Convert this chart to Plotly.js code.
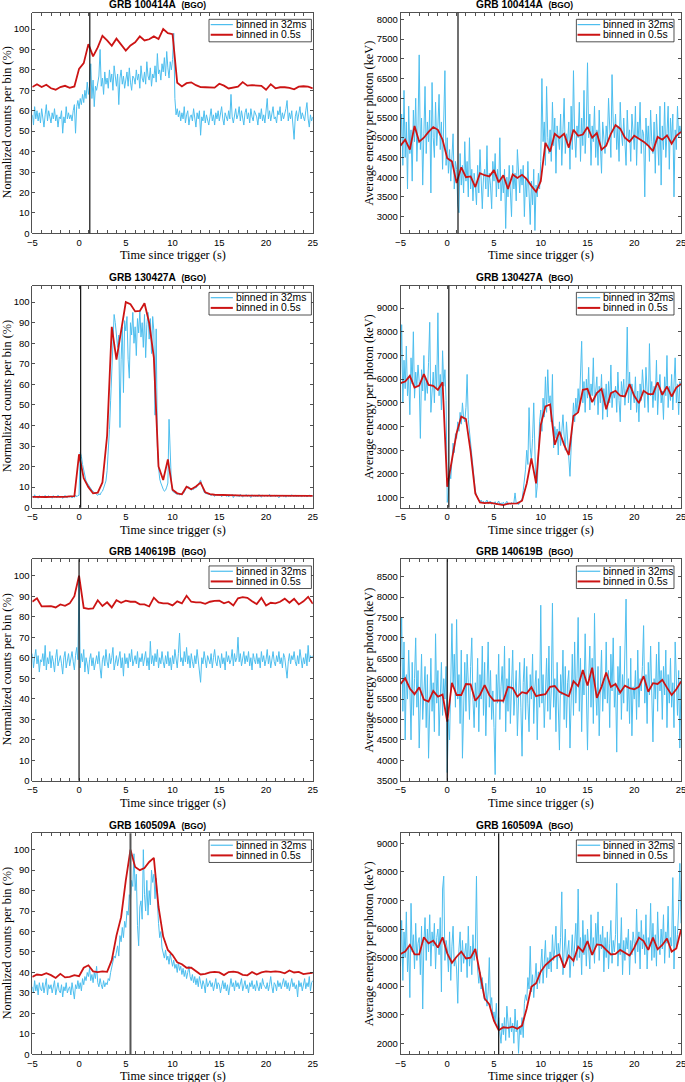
<!DOCTYPE html>
<html><head><meta charset="utf-8">
<script src="https://cdn.plot.ly/plotly-3.0.1.min.js"></script>
<style>html,body{margin:0;padding:0;background:#fff}#chart{width:685px;height:1082px}</style>
</head><body><div id="chart"></div>
<script>
const grbNames = ["GRB 100414A", "GRB 130427A", "GRB 140619B", "GRB 160509A"];
const detectorTag = "(BGO)";
const markerTimes = [1.15, 0.17, 0, 5.5];
const legendLabels = ["binned in 32ms", "binned in 0.5s"];
const yTitles = ["Normalized counts per bin (%)", "Average energy per photon (keV)"];
const xTitle = "Time since trigger (s)";

// ---- GRB 100414A ----
const counts100414A_32ms = [
58,53,62,56,60,55,59,54,
61,56,52,58,63,55,60,57,
54,59,56,61,55,58,52,57,
56,60,49,57,54,62,56,59,
56,58,55,60,63,49,62,65,
61,66,63,68,64,70,66,74,
68,72,83,66,75,62,72,70,
74,77,90,72,76,68,79,73,
76,71,80,74,78,70,82,75,
72,78,63,76,80,73,77,71,
75,79,72,81,74,70,77,76,
73,80,75,78,71,82,76,74,
79,73,84,77,75,81,72,78,
76,82,74,88,78,80,75,83,
79,86,77,89,81,76,84,80,
85,98,66,58,61,57,60,55,
59,56,62,54,58,60,53,57,
58,55,61,57,52,59,56,60,
48,57,55,60,54,58,56,53,
57,61,55,58,53,59,56,60,
55,58,62,56,53,59,57,55,
60,56,68,57,54,59,61,56,
58,62,55,60,57,53,59,61,
56,59,54,61,57,55,60,58,
57,53,59,56,61,55,58,54,
59,66,56,60,55,58,62,56,
57,54,60,58,62,55,59,56,
58,61,65,55,59,56,60,53,
46,57,60,55,58,62,56,59,
57,55,60,64,56,52,58,55,
57];
const counts100414A_05s = [
71.6,73,71.6,72.7,71,70.3,71.6,72.2,71.2,71.9,
80.5,83.3,92.6,86.6,91,96.7,94.4,91.8,95.3,92.6,
89.5,92,93.5,96.4,94.4,95,96.4,95.1,100,98,
97.5,73.7,71.9,73.5,73.9,72.5,71.6,71.5,71.5,71.3,
73.2,72.3,70.9,71.3,71.8,74,72.3,72.5,72.3,72.2,
70.3,73,71,71.5,71.5,71.2,70.5,71.8,72,71.8,
71];
const energy100414A_32ms = [
4800,5600,4300,6200,4500,5400,3700,5800,
4600,5200,3900,5700,4900,6000,4400,5300,
7100,4700,5500,3800,5100,6300,4600,5400,
4900,5700,3600,6400,5000,4500,5900,4800,
5300,6100,4700,5400,4200,5800,6700,4300,
5000,4100,4700,3900,4500,5100,3700,4400,
4200,3300,3100,4600,3800,4300,3600,4900,
3900,4400,3500,5000,3700,4200,3400,4100,
3800,3300,4300,3600,4700,3900,3200,4000,
4200,3700,4800,3500,4100,3800,3200,4400,
3900,4600,3500,4200,3700,5000,3400,4000,
3600,4200,2700,4000,3500,4300,3800,3000,
4300,3700,4100,3400,4700,3900,3600,4200,
3800,4300,3000,4000,3500,4400,3700,2800,
3900,3300,4200,2650,3800,3500,4100,3700,
4400,6500,4900,5400,4300,6300,5000,4600,
5200,4400,5900,4800,5500,4100,5300,5000,
4700,5600,4300,5200,6000,4600,5100,4900,
5400,4200,5800,4700,6700,5100,4500,5300,
5000,5900,4400,5500,4800,6200,4600,5300,
6900,5000,5600,4300,5300,4900,5800,4500,
5200,4300,5700,4800,4100,5400,5000,4600,
5300,4900,6000,5200,4500,6600,5400,5000,
5600,4700,5300,4400,5900,5100,4800,5500,
5000,4300,5700,4900,5200,4400,5600,5100,
4700,5800,4300,5400,5000,5900,4600,5200,
5100,3500,5500,4800,5300,4400,5700,4900,
4600,5400,4100,5600,5000,4300,5800,3800,
5300,4700,5900,4500,5100,5800,4200,5500,
4900,5600,3500,5200,4700,5800,5000,5300,
5100];
const energy100414A_05s = [
4800,4950,4700,5300,4900,5000,5150,5270,5200,4950,
4480,4400,3850,4250,4000,4020,3750,4100,4050,4020,
4180,3870,4050,3700,4070,3980,4060,3950,3780,3630,
3900,4870,4650,5100,5000,5100,4750,5200,5050,5080,
5270,5000,5120,4700,4800,5100,5320,5230,5000,4900,
5050,4980,4900,4800,4660,5020,4950,5060,4850,5050,
5150];

// ---- GRB 130427A ----
const counts130427A_32ms = [
5.5,4.8,6.3,5.0,5.7,4.6,5.9,5.2,
4.9,5.6,5.1,6.0,4.7,5.4,5.8,5.0,
5.3,4.6,5.9,5.1,5.5,4.8,6.1,5.2,
5.0,5.7,4.5,5.4,6.0,5.1,4.9,5.6,
5.2,5.8,4.7,5.5,5.0,6.2,5.3,5.9,
6,27,25,21,18,15,13,12,
11,10,9,8.5,8,7.5,7,6.5,
6,6.8,6.2,7.5,8,9.5,11,13,
18,26,38,52,66,80,94,90,
85,78,84,39,72,88,56,91,
86,93,72,63,90,84,95,80,
88,74,92,85,96,83,90,78,
94,73,89,95,82,92,75,93,
86,45,87,30,20,14,12,10,
9,8,8.5,10,12,43,30,12,
8,7.5,7,6.8,6.5,7,6.2,6.6,
6.3,6.8,7.5,9,10.5,9.8,10.2,9,
8.5,9.2,8.8,10,9.5,10.5,11,12.5,
13.5,11,9,7.5,7,6.8,6.5,6.6,
6.4,5.8,6.7,6,5.5,6.5,5.9,6.3,
5.7,6.4,5.3,6.1,5.8,6.6,5.5,6,
5.2,6.3,5.7,6.5,4.9,5.8,6.2,5.5,
6,5.3,6.5,5.7,5.1,6.2,5.6,6.4,
5.4,6.1,5.8,4.9,6.3,5.5,6,5.2,
5.9,5.3,6.4,5.6,5.1,6.1,5.7,5.5,
6.2,5.4,5.8,6.5,5.2,5.9,5.6,6.1,
5.3,6,5.5,4.8,5.9,5.6,6.2,5.4,
5.8,5.1,6.1,5.5,5.9,5.2,6.3,5.6,
5.5,6,5.2,5.8,5.4,6.1,5.3,5.7,
5.9,5.4,6,5.2,5.7,6.2,5.5,5.8,
5.6];
const counts130427A_05s = [
5.3,5.2,5.3,5.2,5.3,5.2,5.3,5.3,5.5,5.6,
26,14.3,10,7,7.3,12.3,35,88,72,85,
100,99,95.5,95.7,99.5,90,73,20,13.5,23.5,
8.7,7,6.5,10.2,9,10.3,12.2,7.5,6.6,6.3,
6.3,6.2,6.1,6.0,6.0,5.9,5.9,5.8,5.7,5.7,
5.6,5.9,5.8,5.7,5.6,5.6,5.6,5.6,5.7,5.8,
5.8];
const energy130427A_32ms = [
6200,8300,5000,6800,5600,7400,5300,6100,
4500,6900,5800,8000,5200,6300,5700,6600,
5900,3500,6400,5500,7000,5100,6000,5400,
6700,8400,4600,5800,6300,5000,6600,5600,
8800,5300,6200,4700,7200,5700,6400,5100,
800,1200,2100,1800,2700,3300,2900,3700,
3500,4200,3800,4600,4100,5000,4400,4200,
4800,6200,4300,3800,3300,2600,2100,1500,
1300,1100,950,880,820,900,780,850,
760,820,900,730,780,860,720,800,
750,830,700,790,860,720,780,740,
810,700,760,850,690,770,720,800,
740,780,1200,760,820,700,790,850,
950,1300,1700,2200,3000,2400,4800,3100,
2600,3500,5000,2200,1000,1500,3000,4200,
4700,3800,5200,4400,6100,4600,6400,5000,
5300,4200,6200,3100,4000,3500,3900,2800,
4200,3200,3800,4500,3600,3000,4200,3400,
2500,1900,3100,4400,5000,4200,5200,4600,
5600,4800,6300,7600,5000,5900,4600,6000,
5200,6500,4700,5800,5300,6900,4900,5600,
6100,4500,5700,5000,6200,4300,5600,4900,
5800,4400,5900,5000,6600,4800,5500,5200,
5700,4600,6300,5100,4200,5900,5300,6000,
4900,5600,8200,5000,6300,4700,5800,5400,
5000,6100,4600,5500,4200,5800,5100,6400,
5400,4800,6500,5200,4600,7500,5300,5900,
4800,5700,5100,6800,4500,5600,6200,5000,
5500,4300,6100,5300,7000,4800,5700,5100,
6200,4700,5600,6900,5000,5800,4500,5900,
5700];
const energy130427A_05s = [
5830,5900,6140,5650,5730,6210,5760,5720,5550,5870,
1460,2520,3720,4420,4320,2940,1180,800,770,790,
760,720,690,750,770,760,870,1600,2660,1600,
4070,4850,4930,3230,3790,3230,2800,4450,4600,5550,
5590,5030,5410,5590,4730,5410,5510,5300,5270,5790,
5300,4990,5510,5370,5370,5870,5340,5690,5270,5650,
5800];

// ---- GRB 140619B ----
const counts140619B_32ms = [
62,55,60,64,57,61,53,59,
58,62,56,66,54,60,57,63,
55,61,58,53,60,64,56,59,
61,57,52,60,63,55,58,62,
56,60,63,58,54,61,65,59,
98,55,62,58,64,53,60,57,
52,59,62,56,60,54,58,61,
57,63,55,50,59,61,56,64,
58,55,62,57,60,65,54,59,
61,56,59,63,55,60,51,62,
57,60,55,62,58,64,56,59,
61,57,63,55,60,58,62,56,
59,63,56,60,54,68,57,61,
56,62,58,64,55,60,57,63,
58,55,61,57,63,56,60,54,
61,57,64,59,55,62,72,58,
60,56,63,58,65,57,61,55,
62,58,55,61,57,64,59,56,
48,60,57,63,58,55,61,59,
57,62,55,60,64,58,56,61,
59,55,62,57,60,54,63,58,
61,57,59,64,56,62,58,60,
70,58,62,56,60,63,57,61,
58,63,56,60,54,62,59,57,
62,57,60,55,63,58,61,56,
59,64,57,61,55,60,63,58,
56,61,58,63,57,60,55,62,
60,55,50,58,62,57,61,59,
63,58,56,61,57,64,59,55,
60,57,62,56,66,58,61,60,
61];
const counts140619B_05s = [
87.3,89,85,85,85.2,84.5,86,85.3,86.5,90,
100,84.3,83.8,84,88,85.2,87,84.5,88,86.8,
87.8,87.3,87.3,86,86,85,89.3,87,86.5,86.5,
85.5,87.5,86.5,90.2,87.3,87,87,86.3,87.3,87.7,
87.8,86.5,87.3,85.5,89,89.5,89.2,87.5,86.2,89.2,
85.5,86.8,86.5,87.3,88.8,86.8,88.7,86,87.5,89.7,
86.3];
const energy140619B_32ms = [
6300,7500,5200,6900,4500,6100,5500,6700,
5800,4500,6400,5100,6000,7000,5300,6200,
4300,5900,6600,5000,5700,6300,4800,6100,
4050,5600,6500,5200,5900,4700,7100,5400,
6200,4600,5800,6400,5100,6000,5500,6300,
3700,5000,4500,6200,7350,5800,6600,5300,
7450,5500,6100,4900,6700,4050,5700,6400,
5200,6600,5900,5000,6300,7000,5500,4800,
5900,5300,6500,4700,6100,5500,6800,5100,
6400,4600,5800,6900,5300,6200,5000,5700,
4800,3650,6100,5400,6600,5000,5800,6300,
5400,6800,4700,6000,5200,6500,4900,5900,
6700,5100,5600,6200,4600,5800,6400,5300,
4100,5900,6500,5000,6300,5400,4700,6100,
5500,6600,4900,5800,6200,4500,6000,5300,
7800,5400,6100,4800,5900,6500,5200,6800,
5000,5700,7850,5300,6000,4700,6400,5500,
4250,6100,5600,6700,5000,6300,4800,5900,
6200,4300,5700,6600,5100,6900,5400,6000,
7500,5200,6500,4700,6200,5600,7100,5800,
4250,6000,6800,5300,6500,4900,7600,5700,
5100,6300,4600,5800,6700,5200,6000,5500,
6900,5400,6200,4800,6600,5700,7000,5300,
5900,4200,6300,5600,6800,5000,6100,5400,
6400,7950,5200,6000,4900,6500,4600,5800,
5500,6200,5000,6700,5300,6000,5700,6300,
7300,5400,6100,4900,6400,5600,6800,5100,
4450,6000,5500,6600,5200,6900,5700,6200,
5000,6300,5600,6700,4800,6100,5400,6500,
5300,5900,4800,6900,5600,5100,6200,4300,
6000];
const energy140619B_05s = [
5870,6010,5760,5620,5790,5490,5440,5700,5560,5610,
4950,5900,5600,5600,5870,5860,5460,5600,5840,5600,
5460,5470,5460,5800,5770,5560,5670,5640,5790,5570,
5600,5620,5800,5820,5680,5620,5570,5940,5820,6210,
5830,6270,5530,5800,6150,5800,5870,5660,5830,5770,
5740,5800,6060,5680,5890,5870,5970,5780,5600,5740,
5930];

// ---- GRB 160509A ----
const counts160509A_32ms = [
33,30,36,31,34,29,35,32,
31,35,30,33,37,29,34,32,
34,30,33,36,29,32,35,31,
30,34,28,33,31,35,30,32,
33,29,35,31,27,34,32,36,
32,35,31,37,34,38,36,40,
38,42,36,39,35,40,37,43,
35,33,37,34,32,36,33,35,
34,37,36,40,43,45,48,47,
50,53,48,58,55,62,57,65,
62,70,68,78,75,85,82,98,
80,88,63,53,72,75,66,100,
78,70,85,68,80,73,90,84,
88,76,86,70,64,57,60,52,
50,47,51,46,48,44,49,45,
43,46,42,44,40,45,41,43,
39,42,38,41,37,40,43,38,
36,39,35,38,34,37,33,38,
35,32,36,34,30,37,33,35,
36,33,35,31,34,37,32,35,
34,30,33,36,32,35,31,34,
29,34,37,33,35,31,36,33,
35,32,34,37,31,33,36,32,
34,30,35,33,36,32,34,31,
36,33,31,35,32,37,34,33,
32,35,31,34,38,33,30,35,
34,31,36,33,35,32,34,37,
33,36,32,35,31,34,37,33,
35,32,34,28,36,33,35,31,
34,37,32,35,33,38,31,35,
36];
const counts160509A_05s = [
37.8,39,38.7,39.6,38.7,37.3,39.3,37.6,37.8,38.7,
38.2,42.3,43.5,40.5,40.2,40.5,40.3,46,58,67,
85,100,91.5,90,91,94,96,72,57.5,51,
48.5,45,44,42.3,42.3,40.5,39,39.3,40,40.3,
40,38.7,40.2,40.4,40,38.8,38.6,40.2,39,40,
40.5,40.3,40.5,40.3,39.6,41,40,40.3,39.2,39.5,
39.8];
const energy160509A_32ms = [
4700,6300,4200,5900,5000,6600,4500,5400,
3600,6900,5200,5800,4600,6200,4900,5500,
5700,4400,6100,3200,5500,6400,4900,6000,
5200,6500,4700,5900,5400,6200,4600,5700,
6000,5100,6400,3800,7400,7850,4900,5600,
5300,4500,5900,4200,5400,6100,4700,5000,
4600,3400,5300,5900,4500,5600,4800,5200,
5500,4300,6100,4700,5400,4400,5800,4900,
5300,7850,4600,4100,4500,3900,4300,3700,
3500,4100,3300,3800,5000,3200,3600,2900,
3100,2700,3400,2500,2900,2400,2000,2700,
2300,2900,2100,3300,2600,2200,2900,2400,
2700,2000,3200,2400,2800,1650,2600,2300,
2900,2200,3400,3700,3500,4300,3900,5400,
3800,4400,3600,4200,4800,3900,4500,4100,
4700,5300,4100,4900,5600,4300,5000,4600,
5200,4500,5800,4900,5300,6100,4600,5500,
5000,5700,7300,4400,5400,6000,4800,5300,
5600,4300,5100,5800,4700,5400,6200,4900,
7400,5000,5700,4400,6300,5100,5800,4700,
6000,5300,4600,6500,5100,5700,4800,6200,
5400,6600,4900,5800,5300,6100,4500,5700,
5000,5900,4600,5500,6300,4800,5600,5200,
5800,7600,4700,5500,5100,6400,4400,5600,
4900,5700,5300,6000,4400,5600,5100,5900,
5500,4800,6700,5200,5900,4600,6300,5300,
5800,5100,6500,4600,5700,5300,6900,4900,
6200,5000,5800,4700,6600,5400,5100,6000,
5300,6500,4800,5900,5500,6800,5000,5700,
5400,7800,4600,6100,5300,5800,6700,8300,
6200];
const energy160509A_05s = [
5125,5210,5440,5110,5110,5710,5500,5590,5350,5710,
5150,4820,5030,5210,4970,5000,5300,4500,3570,3360,
2780,2460,2560,2540,2580,2510,2620,3220,3980,4100,
4510,4740,4890,5030,5110,4650,5070,4890,5380,5210,
5580,5090,5460,5440,5270,5110,5130,5270,5170,5070,
5350,5700,5580,5270,5700,5290,5440,5670,5210,5320,
5970];

// time grids (bin starts of the 32 ms-resampled and 0.5 s series)
const t32 = Array.from({length: counts100414A_32ms.length}, (_, i) => -5 + i * 0.125);
const t05 = Array.from({length: counts100414A_05s.length}, (_, i) => -5 + i * 0.5);

const panelFine = [counts100414A_32ms, energy100414A_32ms, counts130427A_32ms, energy130427A_32ms,
                   counts140619B_32ms, energy140619B_32ms, counts160509A_32ms, energy160509A_32ms];
const panelCoarse = [counts100414A_05s, energy100414A_05s, counts130427A_05s, energy130427A_05s,
                     counts140619B_05s, energy140619B_05s, counts160509A_05s, energy160509A_05s];

// ---- layout geometry (pixels) ----
const W = 685, H = 1082;
const colPx = [[32.3, 312.8], [400.5, 681]];
const rowPx = [[12.7, 233.3], [285.7, 507.7], [559.3, 780.7], [833.3, 1054.3]];
const yRanges = [[0,108],[2578,8169],[0,108],[577,9944],[0,108],[3500,8925],[0,108],[1615,9350]];
const yDtick = [10,500,10,1000,10,500,10,1000];
const BLUE = "#4DBEEE", RED = "#CC1414";
const tickFont = {family: "Liberation Sans, Arial, sans-serif", size: 9.5, color: "#000"};
const serif = "Liberation Serif, Times New Roman, serif";

const data = [], shapes = [], annotations = [];
const layout = {width: W, height: H, margin: {l:0, r:0, t:0, b:0}, paper_bgcolor: "#fff",
  plot_bgcolor: "#fff", showlegend: false};

for (let p = 0; p < 8; p++) {
  const row = Math.floor(p / 2), col = p % 2, n = p + 1;
  const xs = n === 1 ? "" : String(n);
  const xa = "x" + xs, ya = "y" + xs;
  const [x0, x1] = colPx[col], [y0, y1] = rowPx[row];
  const axCommon = {showline: true, linecolor: "#262626", linewidth: 0.8, mirror: "ticks",
    ticks: "inside", ticklen: 3, tickwidth: 0.8, tickcolor: "#262626", showgrid: false,
    zeroline: false, tickfont: tickFont, fixedrange: true, exponentformat: "none",
    ticklabeloverflow: "allow"};
  layout["xaxis" + xs] = Object.assign({}, axCommon, {domain: [x0 / W, x1 / W], anchor: ya,
    range: [-5, 25], tick0: -5, dtick: 5,
    minor: {ticks: "inside", ticklen: 3, dtick: 1, tickcolor: "#262626", tickwidth: 0.8, showgrid: false}});
  layout["yaxis" + xs] = Object.assign({}, axCommon, {domain: [1 - y1 / H, 1 - y0 / H], anchor: xa,
    range: yRanges[p], tick0: 0, dtick: yDtick[p]});

  data.push({x: t32, y: panelFine[p], type: "scatter", mode: "lines", xaxis: xa, yaxis: ya,
    line: {color: BLUE, width: 1}, hoverinfo: "skip"});
  data.push({x: t05, y: panelCoarse[p], type: "scatter", mode: "lines", xaxis: xa, yaxis: ya,
    line: {color: RED, width: 1.8}, hoverinfo: "skip"});

  // trigger / marker line
  shapes.push({type: "line", xref: xa, yref: ya + " domain", x0: markerTimes[row], x1: markerTimes[row],
    y0: 0, y1: 1, line: {color: p === 6 ? "#555" : "#111", width: p === 6 ? 2 : 1.2}, layer: "above"});

  // legend box
  const lb = col === 0 ? {bx0: 0.630, bx1: 0.995, lx0: 0.636, lx1: 0.715, tx: 0.719}
                       : {bx0: 0.627, bx1: 0.975, lx0: 0.631, lx1: 0.712, tx: 0.716};
  shapes.push({type: "rect", xref: xa + " domain", yref: ya + " domain", x0: lb.bx0, x1: lb.bx1,
    y0: 0.868, y1: 0.97, fillcolor: "#fff", line: {color: "#262626", width: 0.8}, layer: "above"});
  const ly = [0.946, 0.9];
  const lc = [BLUE, RED], lw = [1.2, 2];
  for (let k = 0; k < 2; k++) {
    shapes.push({type: "line", xref: xa + " domain", yref: ya + " domain", x0: lb.lx0, x1: lb.lx1,
      y0: ly[k], y1: ly[k], line: {color: lc[k], width: lw[k]}, layer: "above"});
    annotations.push({xref: xa + " domain", yref: ya + " domain", x: lb.tx, y: ly[k], xanchor: "left",
      yanchor: "middle", text: legendLabels[k], showarrow: false,
      font: {family: "Liberation Sans, Arial, sans-serif", size: 10.4, color: "#000"}});
  }

  // panel title
  const titleX = col === 0 ? 157.5 : 524;
  annotations.push({xref: "paper", yref: "paper", x: titleX / W, y: 1 - (y0 - 8) / H,
    xanchor: "center", yanchor: "middle", showarrow: false,
    text: "<b>" + grbNames[row] + "</b>\u00a0\u00a0<b><span style='font-size:8.4px'>" + detectorTag + "</span></b>",
    font: {family: "Liberation Sans, Arial, sans-serif", size: 10.2, color: "#000"}});
  // axis titles
  annotations.push({xref: "paper", yref: "paper", x: (x0 + x1) / 2 / W, y: 1 - (y1 + 22) / H,
    xanchor: "center", yanchor: "middle", showarrow: false, text: xTitle,
    font: {family: serif, size: 12.3, color: "#000"}});
  annotations.push({xref: "paper", yref: "paper", x: (col === 0 ? 6.5 : 368.5) / W, y: 1 - (y0 + y1) / 2 / H,
    xanchor: "center", yanchor: "middle", showarrow: false, textangle: -90, text: yTitles[col],
    font: {family: serif, size: 12.3, color: "#000"}});
}
layout.shapes = shapes;
layout.annotations = annotations;

Plotly.newPlot("chart", data, layout, {staticPlot: true, displayModeBar: false});
</script>
</body></html>
